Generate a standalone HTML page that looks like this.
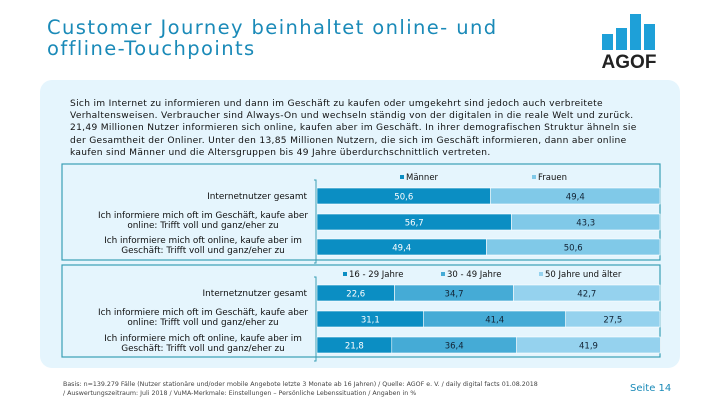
<!DOCTYPE html>
<html><head><meta charset="utf-8"><style>
body{margin:0;width:720px;height:405px;background:#fff;font-family:"DejaVu Sans",sans-serif;position:relative;overflow:hidden}
.t{position:absolute}
</style></head><body>
<div class="t" style="left:47px;top:17px;font-size:19.5px;line-height:21px;color:#1a8ab8;letter-spacing:1.4px">Customer Journey beinhaltet online- und<br>offline-Touchpoints</div>
<svg class="t" style="left:598px;top:12px" width="70" height="60">
<rect x="4" y="22" width="11" height="16" fill="#1ea0d8"/><rect x="18" y="16" width="11" height="22" fill="#1ea0d8"/><rect x="32" y="2" width="11" height="36" fill="#1ea0d8"/><rect x="46" y="12" width="11" height="26" fill="#1ea0d8"/>
<text x="31" y="56" text-anchor="middle" font-size="19" font-weight="bold" fill="#222" font-family="Liberation Sans">AGOF</text></svg>
<div class="t" style="left:40px;top:80px;width:640px;height:288px;background:#e5f5fd;border-radius:12px"></div>
<div class="t" style="left:70px;top:98px;width:575px;font-size:9.1px;line-height:12.2px;color:#111;letter-spacing:0.3px">Sich im Internet zu informieren und dann im Geschäft zu kaufen oder umgekehrt sind jedoch auch verbreitete Verhaltensweisen. Verbraucher sind Always-On und wechseln ständig von der digitalen in die reale Welt und zurück. 21,49 Millionen Nutzer informieren sich online, kaufen aber im Geschäft. In ihrer demografischen Struktur ähneln sie der Gesamtheit der Onliner. Unter den 13,85 Millionen Nutzern, die sich im Geschäft informieren, dann aber online kaufen sind Männer und die Altersgruppen bis 49 Jahre überdurchschnittlich vertreten.</div>
<svg id="c" class="t" style="left:0;top:0" width="720" height="405"></svg>
<div class="t" style="left:63px;top:380px;font-size:6.3px;line-height:9px;color:#444">Basis: n=139.279 Fälle (Nutzer stationäre und/oder mobile Angebote letzte 3 Monate ab 16 Jahren) / Quelle: AGOF e. V. / daily digital facts 01.08.2018<br>/ Auswertungszeitraum: Juli 2018 / VuMA-Merkmale: Einstellungen – Persönliche Lebenssituation / Angaben in %</div>
<div class="t" style="left:630px;top:383px;font-size:10px;color:#1a8ab8">Seite 14</div>
<script>
const cats=["Internetnutzer gesamt","Ich informiere mich oft im Geschäft, kaufe aber|online: Trifft voll und ganz/eher zu","Ich informiere mich oft online, kaufe aber im|Geschäft: Trifft voll und ganz/eher zu"];
const cats2=["Internetznutzer gesamt",cats[1],cats[2]];
const genderSeries=["Männer","Frauen"];
const maenner=[50.6,56.7,49.4];
const frauen=[49.4,43.3,50.6];
const ageSeries=["16 - 29 Jahre","30 - 49 Jahre","50 Jahre und älter"];
const age1629=[22.6,31.1,21.8];
const age3049=[34.7,41.4,36.4];
const age50=[42.7,27.5,41.9];
const svg=document.getElementById('c');const NS="http://www.w3.org/2000/svg";
function mk(t,a,p){const e=document.createElementNS(NS,t);for(const k in a)e.setAttribute(k,a[k]);(p||svg).appendChild(e);return e;}
const x0=317,x1=660;const xs=v=>v/100*(x1-x0);
function chart(top,labels,series,names,colors,rowY,legX,legY,name){
  const b=mk('rect',{x:62,y:top,width:598,height:name==='gender-chart'?96:92,fill:'none',stroke:'#3a9fb5','stroke-width':1.2});
  
  names.forEach((n,i)=>{const r=mk('rect',{x:legX[i],y:legY-5,width:4,height:4,fill:colors[i]});
    
    const t=mk('text',{x:legX[i]+6,y:legY,'font-size':8.5,fill:'#111'});t.textContent=n;
    });
  const ax=mk('path',{d:`M${x0-3} ${rowY[0]-8}h2V${rowY[2]+24}h-2`,stroke:'#3a9fb5',fill:'none'});
  
  labels.forEach((l,i)=>{const y=rowY[i];let x=x0;
    const parts=l.split('|');
    parts.forEach((p,j)=>{const t=mk('text',{x:parts.length>1?203:307,y:y+(parts.length>1?4+j*10:11),'text-anchor':parts.length>1?'middle':'end','font-size':8.9,fill:'#111'});t.textContent=p;
      });
    series.forEach((s,k)=>{const w=xs(s[i]);
      const r=mk('rect',{x:x,y:y,width:w,height:16,fill:colors[k],stroke:'#fff','stroke-width':0.6});
      
      const t=mk('text',{x:x+w/2,y:y+11.5,'text-anchor':'middle','font-size':8.5,fill:k===0?'#fff':'#123'});t.textContent=s[i].toFixed(1).replace('.',',');
      
      x+=w;});
  });
}
chart(164,cats,[maenner,frauen],genderSeries,['#0b8ec3','#80c9e8'],[188,214,239],[400,532],180,'gender-chart');
chart(265,cats2,[age1629,age3049,age50],ageSeries,['#0b8ec3','#45abd6','#95d2ee'],[285,311,337],[343,441,539],277,'age-chart');
</script>
</body></html>
